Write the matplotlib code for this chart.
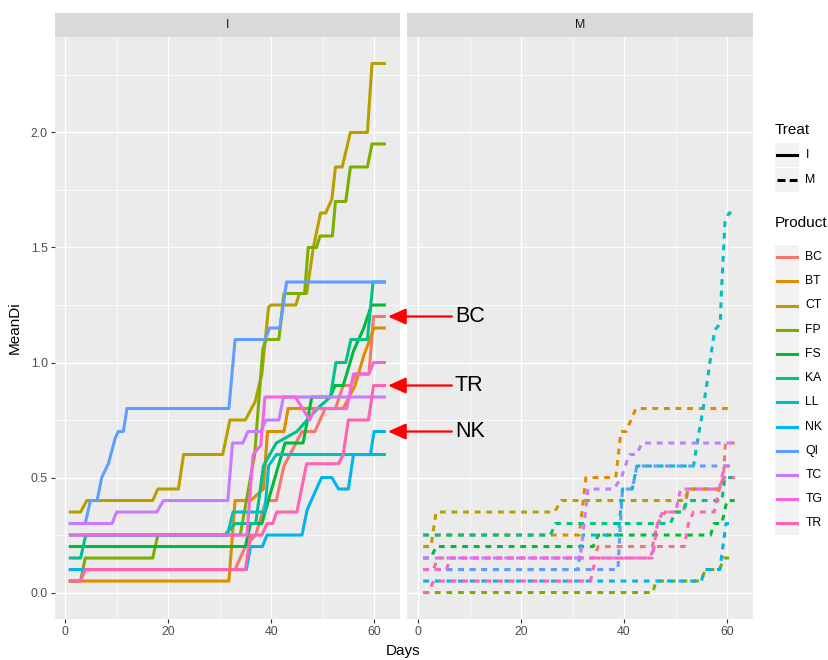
import matplotlib
matplotlib.use("Agg")
import matplotlib.pyplot as plt
from matplotlib.patches import Rectangle
from matplotlib.lines import Line2D

plt.rcParams["font.family"] = ["Liberation Sans", "DejaVu Sans"]

products = ["BC", "BT", "CT", "FP", "FS", "KA", "LL", "NK", "QI", "TC", "TG", "TR"]
colors = ["#F8766D", "#DE8C00", "#B79F00", "#7CAE00", "#00BA38", "#00C08B",
          "#00BFC4", "#00B4F0", "#619CFF", "#C77CFF", "#F564E3", "#FF64B0"]

# ---- treatment I : (day, mean disease index)
bc_i = [(1, .1), (33, .1), (35, .2), (37, .25), (39, .4), (41, .4), (42.5, .55), (46, .7),
        (48.5, .7), (50.5, .8), (52.5, .8), (54, .9), (55.5, .9), (56.4, .95), (59, .95),
        (59.9, 1.2), (62, 1.2)]
bt_i = [(1, .05), (31.8, .05), (33, .4), (36, .4), (38.5, .45), (39.3, .7), (42.5, .7),
        (43.3, .8), (54, .8), (56.3, .9), (58, 1.03), (60, 1.15), (62, 1.15)]
ct_i = [(1, .35), (3, .35), (4.2, .4), (17, .4), (18, .45), (22, .45), (23, .6), (30.6, .6),
        (32, .75), (35, .75), (36.9, .83), (38.2, .95), (39.5, 1.24), (40, 1.25), (44.8, 1.25),
        (45.5, 1.3), (46.9, 1.3), (48.2, 1.5), (49.6, 1.65), (50.6, 1.65), (51.8, 1.71),
        (52.5, 1.85), (53.8, 1.85), (55.4, 2.0), (58.7, 2.0), (59.6, 2.3), (62, 2.3)]
fp_i = [(1, .05), (3, .05), (3.9, .15), (17, .15), (18, .25), (34, .25), (36.8, .6),
        (38.4, 1.06), (39, 1.1), (41.5, 1.1), (42.5, 1.3), (46.5, 1.3), (47.2, 1.5),
        (48.8, 1.5), (49.5, 1.55), (51.9, 1.55), (52.5, 1.7), (54.5, 1.7), (55.4, 1.85),
        (58.7, 1.85), (59.6, 1.95), (62, 1.95)]
fs_i = [(1, .2), (35, .2), (36, .3), (38.2, .3), (40.1, .45), (42.7, .65), (46.2, .65),
        (47.9, .85), (51.5, .85), (52.4, .9), (54, .9), (56, 1.05), (58, 1.15), (59.5, 1.25),
        (62, 1.25)]
ka_i = [(1, .15), (3, .15), (4, .25), (31, .25), (33, .3), (37, .3), (38.5, .55), (41, .65),
        (45, .7), (49, .8), (51.5, .85), (52.6, 1.0), (54.5, 1.0), (55.5, 1.1), (58.7, 1.1),
        (59.8, 1.35), (62, 1.35)]
ll_i = [(1, .25), (31.5, .25), (32.6, .35), (38.8, .35), (39.5, .55), (41, .6), (62, .6)]
nk_i = [(1, .1), (35.2, .1), (36, .2), (38.3, .2), (39.2, .25), (46, .25), (47, .36),
        (49.8, .5), (51.8, .5), (53.1, .45), (55, .45), (56, .6), (59.3, .6), (60, .7), (62, .7)]
qi_i = [(1, .3), (3.9, .3), (4.9, .4), (6.2, .4), (7.1, .5), (8.4, .56), (9.7, .67),
        (10.3, .7), (11.3, .7), (12, .8), (31.8, .8), (33, 1.1), (38.8, 1.1), (39.7, 1.15),
        (41.7, 1.15), (43, 1.35), (62, 1.35)]
tc_i = [(1, .3), (9.1, .3), (10, .35), (17.8, .35), (19.1, .4), (31.6, .4), (32.5, .65),
        (34.5, .65), (35.5, .7), (38, .7), (39, .75), (41.5, .75), (42.4, .85), (62, .85)]
tg_i = [(1, .25), (35.3, .25), (36.5, .6), (38, .64), (38.8, .85), (44.7, .85), (47.5, .75),
        (48.5, .8), (54.7, .8), (56, .95), (59, .95), (59.9, 1.0), (62, 1.0)]
tr_i = [(1, .05), (3, .05), (3.9, .1), (35, .1), (36, .25), (38.2, .25), (39.2, .3),
        (40.3, .3), (41.1, .35), (45, .35), (46.9, .56), (53.1, .56), (54, .6), (55, .75),
        (58.9, .75), (59.9, .9), (62, .9)]

# ---- treatment M
bc_m = [(1, .1), (3, .1), (3.8, .15), (34, .15), (35, .2), (45.5, .2), (46.5, .3), (48, .35),
        (51.5, .35), (52.5, .45), (58.5, .45), (59.3, .5), (59.7, .65), (61.5, .65)]
bt_m = [(1, .25), (31.3, .25), (32.6, .5), (38.4, .5), (39.4, .7), (40.4, .7), (42.3, .8),
        (61, .8)]
ct_m = [(1, .2), (2.5, .2), (3.5, .35), (26.5, .35), (27.8, .4), (51.8, .4), (52.5, .45),
        (58.5, .45), (59.5, .5), (61.5, .5)]
fp_m = [(1, 0), (45.6, 0), (46.2, .05), (54.9, .05), (55.8, .1), (58.6, .1), (59.3, .15),
        (61.5, .15)]
fs_m = [(1, .15), (2.5, .15), (3.5, .2), (34, .2), (35, .25), (56.8, .25), (57.5, .3),
        (59, .3), (60, .4), (61.5, .4)]
ka_m = [(1, .25), (25.7, .25), (26.7, .3), (49, .3), (50, .35), (51.5, .35), (52.2, .4),
        (59, .4), (59.6, .5), (61.5, .5)]
ll_m = [(1, .1), (31, .1), (32, .25), (38.9, .25), (39.7, .45), (41.6, .45), (42.5, .55),
        (53.5, .55), (54.5, .69), (55.3, .79), (56.3, .94), (57, 1.05), (57.6, 1.14),
        (58.7, 1.17), (58.9, 1.3), (59.6, 1.61), (60.4, 1.65), (61.5, 1.65)]
nk_m = [(1, .05), (55, .05), (55.8, .1), (58.6, .1), (59.8, .3), (61.5, .3)]
qi_m = [(1, .1), (38.8, .1), (39.7, .45), (41.6, .45), (42.5, .55), (61.5, .55)]
tc_m = [(1, .15), (31.5, .15), (33, .45), (38, .45), (39.5, .5), (41, .6), (42.4, .6),
        (43.5, .65), (61.5, .65)]
tg_m = [(1, .1), (5.5, .1), (6.3, .15), (45.5, .15), (46.5, .3), (47.5, .35), (50, .35),
        (51, .45), (58.5, .45), (59.5, .55), (61.5, .55)]
tr_m = [(1, 0), (2, 0), (3, .05), (33.5, .05), (34.5, .15), (45, .15), (46, .2), (51.7, .2),
        (52.5, .3), (53.5, .35), (57.5, .35), (58.5, .45), (59.5, .5), (61.5, .5)]

series_i = [bc_i, bt_i, ct_i, fp_i, fs_i, ka_i, ll_i, nk_i, qi_i, tc_i, tg_i, tr_i]
series_m = [bc_m, bt_m, ct_m, fp_m, fs_m, ka_m, ll_m, nk_m, qi_m, tc_m, tg_m, tr_m]

# products called out with arrows in the I panel
callouts = [("BC", bc_i), ("TR", tr_i), ("NK", nk_i)]

W, H = 829, 660
LW = 2.2
DASH = (1.9, 1.9)
fig = plt.figure(figsize=(W / 100, H / 100), dpi=100)
fig.patch.set_facecolor("white")

pan_bottom, pan_top = 619, 37
pan_w = 345.5


def px_box(x0, y_top, w, h):
    return [x0 / W, 1 - (y_top + h) / H, w / W, h / H]


ax_i = fig.add_axes(px_box(54.6, pan_top, pan_w, pan_bottom - pan_top))
ax_m = fig.add_axes(px_box(407.5, pan_top, pan_w, pan_bottom - pan_top))

for ax in (ax_i, ax_m):
    ax.set_facecolor("#EBEBEB")
    ax.set_xlim(-2.05, 65.05)
    ax.set_ylim(-0.115, 2.415)
    ax.set_xticks([0, 20, 40, 60])
    ax.set_xticks([10, 30, 50], minor=True)
    ax.set_yticks([0, 0.5, 1.0, 1.5, 2.0])
    ax.set_yticks([0.25, 0.75, 1.25, 1.75, 2.25], minor=True)
    ax.grid(which="major", color="white", lw=1.0)
    ax.grid(which="minor", color="white", lw=0.5)
    ax.set_axisbelow(True)
    for s in ax.spines.values():
        s.set_visible(False)
    ax.tick_params(which="major", length=2.75, width=0.8, color="#333333",
                   labelsize=8.8, labelcolor="#4D4D4D", pad=2.2)
    ax.tick_params(which="minor", length=0)

ax_i.set_yticklabels([f"{v:.1f}" for v in [0, 0.5, 1.0, 1.5, 2.0]])
ax_m.tick_params(axis="y", which="both", left=False, labelleft=False)

for ax, group, dashed in ((ax_i, series_i, False), (ax_m, series_m, True)):
    for col, pts in zip(colors, group):
        d = [p[0] for p in pts]
        v = [p[1] for p in pts]
        ln, = ax.plot(d, v, color=col, lw=LW, solid_joinstyle="round",
                      dash_joinstyle="round")
        if dashed:
            ln.set_dashes(DASH)

# facet strips
for x0, lab in ((54.6, "I"), (407.5, "M")):
    sax = fig.add_axes(px_box(x0, 12.5, pan_w, pan_top - 12.5))
    sax.set_facecolor("#D9D9D9")
    sax.set_xticks([])
    sax.set_yticks([])
    for s in sax.spines.values():
        s.set_visible(False)
    sax.text(0.5, 0.5, lab, ha="center", va="center", fontsize=8.8, color="#1A1A1A",
             transform=sax.transAxes)

# red arrows to the end of selected I curves
ax_i.set_zorder(5)
for name, pts in callouts:
    yv = pts[-1][1]
    ax_i.annotate("", xy=(62.7, yv), xytext=(75.1, yv),
                  arrowprops=dict(arrowstyle="-|>,head_length=0.6,head_width=0.27",
                                  color="red", lw=1.6, mutation_scale=18,
                                  shrinkA=0, shrinkB=0),
                  annotation_clip=False)
    ax_i.text(75.7, yv, name, fontsize=15.5, va="center", ha="left", color="black",
              clip_on=False)

fig.text(403 / W, 1 - 651 / H, "Days", ha="center", va="center", fontsize=11)
fig.text(15 / W, 1 - 328 / H, "MeanDi", ha="center", va="center", fontsize=11,
         rotation=90)

# legends
lax = fig.add_axes([0, 0, 1, 1])
lax.set_xlim(0, W)
lax.set_ylim(H, 0)
lax.axis("off")
lax.set_zorder(6)
key = 24.2
lax.text(775, 130, "Treat", fontsize=11, va="center", ha="left")
for k, (lab, dashed) in enumerate([("I", False), ("M", True)]):
    y0 = 143.3 + k * key
    lax.add_patch(Rectangle((775, y0), 24, key, facecolor="#F2F2F2", edgecolor="none"))
    ln = Line2D([777, 797], [y0 + key / 2] * 2, color="black", lw=LW)
    if dashed:
        ln.set_dashes((2.6, 1.4))
    lax.add_line(ln)
    lax.text(805.5, y0 + key / 2, lab, fontsize=8.8, va="center", ha="left")

lax.text(775, 223, "Product", fontsize=11, va="center", ha="left")
for k, (lab, col) in enumerate(zip(products, colors)):
    y0 = 245 + k * key
    lax.add_patch(Rectangle((775, y0), 24, key, facecolor="#F2F2F2", edgecolor="none"))
    lax.add_line(Line2D([777, 797], [y0 + key / 2] * 2, color=col, lw=LW))
    lax.text(805.5, y0 + key / 2, lab, fontsize=8.8, va="center", ha="left")

fig.savefig("out.png", dpi=100)
